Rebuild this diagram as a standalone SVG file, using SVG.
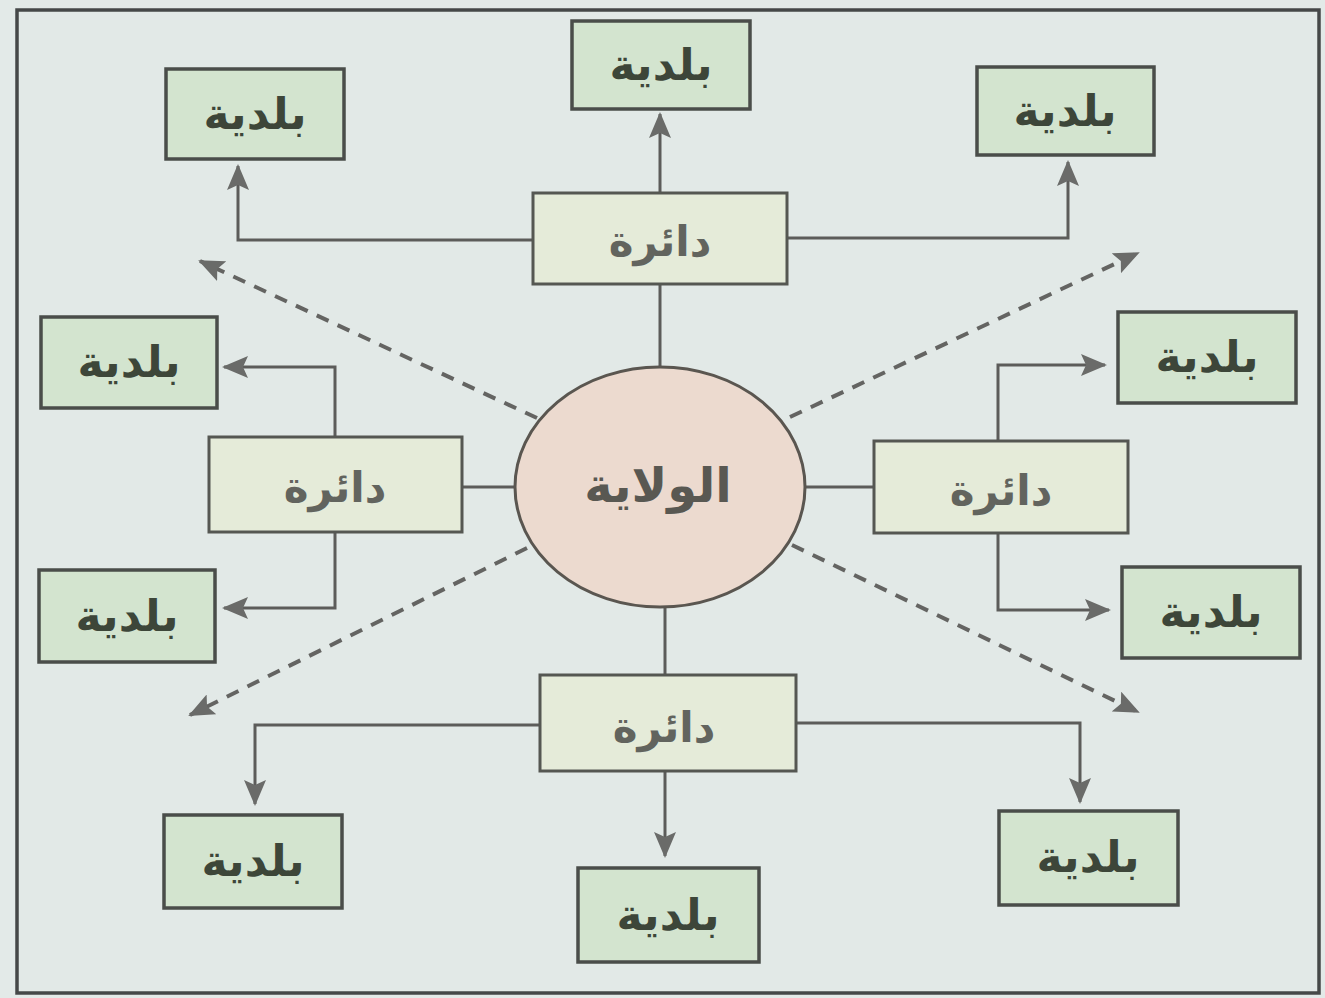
<svg xmlns="http://www.w3.org/2000/svg" width="1325" height="998" viewBox="0 0 1325 998">
<defs>
<style>
.bal rect{fill:#d3e4cf;stroke:#4a4d4a;stroke-width:3.5}
.dai rect{fill:#e5ebd9;stroke:#555752;stroke-width:3}
.bal text{font-family:"DejaVu Sans",sans-serif;font-size:44px;font-weight:bold;fill:#3d4639;text-anchor:middle}
.dai text{font-family:"DejaVu Sans",sans-serif;font-size:42px;font-weight:bold;fill:#62645e;text-anchor:middle}
.ln{fill:none;stroke:#5c5c5a;stroke-width:3}
.dash{fill:none;stroke:#646462;stroke-width:4;stroke-dasharray:13 10}
</style>
<marker id="ah" viewBox="0 0 26 22" refX="24" refY="11" markerWidth="26" markerHeight="22" markerUnits="userSpaceOnUse" orient="auto">
<path d="M0,0 L26,11 L0,22 L5,11 z" fill="#6a6b69"/>
</marker>
</defs>
<rect x="0" y="0" width="1325" height="998" fill="#e3eae8"/>
<rect x="17" y="10" width="1302" height="983" fill="#e2e9e7" stroke="#454848" stroke-width="3.5"/>
<g id="connectors">
<line class="ln" x1="660" y1="367" x2="660" y2="284"/>
<line class="ln" x1="660" y1="193" x2="660" y2="114" marker-end="url(#ah)"/>
<polyline class="ln" points="533,240 238,240 238,166" marker-end="url(#ah)"/>
<polyline class="ln" points="787,238 1068,238 1068,162" marker-end="url(#ah)"/>
<line class="ln" x1="515" y1="487" x2="462" y2="487"/>
<polyline class="ln" points="335,437 335,367 224,367" marker-end="url(#ah)"/>
<polyline class="ln" points="335,532 335,608 224,608" marker-end="url(#ah)"/>
<line class="ln" x1="805" y1="487" x2="874" y2="487"/>
<polyline class="ln" points="998,441 998,365 1105,365" marker-end="url(#ah)"/>
<polyline class="ln" points="998,533 998,610 1109,610" marker-end="url(#ah)"/>
<line class="ln" x1="665" y1="608" x2="665" y2="675"/>
<line class="ln" x1="665" y1="771" x2="665" y2="856" marker-end="url(#ah)"/>
<polyline class="ln" points="540,725 255,725 255,804" marker-end="url(#ah)"/>
<polyline class="ln" points="796,723 1080,723 1080,802" marker-end="url(#ah)"/>
<line class="dash" x1="537" y1="418" x2="200" y2="261" marker-end="url(#ah)"/>
<line class="dash" x1="790" y1="417" x2="1138" y2="253" marker-end="url(#ah)"/>
<line class="dash" x1="527" y1="548" x2="190" y2="715" marker-end="url(#ah)"/>
<line class="dash" x1="792" y1="545" x2="1138" y2="712" marker-end="url(#ah)"/>
</g>
<g id="wilaya">
<ellipse cx="660" cy="487" rx="145" ry="120" fill="#ecdacf" stroke="#5a5650" stroke-width="3"/>
<text x="658" y="502" font-family="DejaVu Sans, sans-serif" font-size="48" font-weight="bold" fill="#595852" text-anchor="middle">الولاية</text>
</g>
<g id="daira-top" class="dai"><rect x="533" y="193" width="254" height="91"/><text x="660" y="256">دائرة</text></g>
<g id="daira-left" class="dai"><rect x="209" y="437" width="253" height="95"/><text x="335" y="502">دائرة</text></g>
<g id="daira-right" class="dai"><rect x="874" y="441" width="254" height="92"/><text x="1001" y="505">دائرة</text></g>
<g id="daira-bottom" class="dai"><rect x="540" y="675" width="256" height="96"/><text x="664" y="742">دائرة</text></g>
<g id="baladiya-top" class="bal"><rect x="572" y="21" width="178" height="88"/><text x="661" y="80">بلدية</text></g>
<g id="baladiya-top-left" class="bal"><rect x="166" y="69" width="178" height="90"/><text x="255" y="129">بلدية</text></g>
<g id="baladiya-top-right" class="bal"><rect x="977" y="67" width="177" height="88"/><text x="1065" y="126">بلدية</text></g>
<g id="baladiya-left-upper" class="bal"><rect x="41" y="317" width="176" height="91"/><text x="129" y="377">بلدية</text></g>
<g id="baladiya-left-lower" class="bal"><rect x="39" y="570" width="176" height="92"/><text x="127" y="631">بلدية</text></g>
<g id="baladiya-right-upper" class="bal"><rect x="1118" y="312" width="178" height="91"/><text x="1207" y="372">بلدية</text></g>
<g id="baladiya-right-lower" class="bal"><rect x="1122" y="567" width="178" height="91"/><text x="1211" y="627">بلدية</text></g>
<g id="baladiya-bottom-left" class="bal"><rect x="164" y="815" width="178" height="93"/><text x="253" y="876">بلدية</text></g>
<g id="baladiya-bottom" class="bal"><rect x="578" y="868" width="181" height="94"/><text x="668" y="930">بلدية</text></g>
<g id="baladiya-bottom-right" class="bal"><rect x="999" y="811" width="179" height="94"/><text x="1088" y="872">بلدية</text></g>
</svg>
